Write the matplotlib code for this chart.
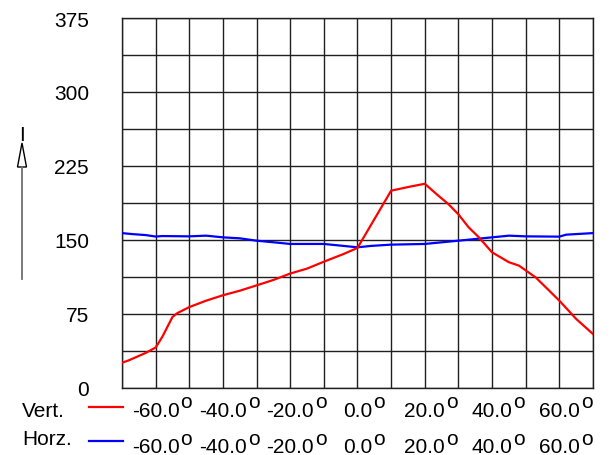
import numpy as np
import matplotlib
matplotlib.use("Agg")
import matplotlib.pyplot as plt
from matplotlib.lines import Line2D
from matplotlib.patches import Polygon

plt.rcParams['font.family'] = ['Liberation Sans', 'DejaVu Sans']

# angle (deg) / value pairs
vert_x = [-70, -68, -63, -60, -58, -55, -53.5, -50, -45, -40, -35, -30, -25, -20,
          -15, -10, -4, 0, 10, 15.5, 20, 24, 27, 30, 33, 36, 40, 45, 48, 53, 57,
          60, 65, 70]
vert_y = [25.6, 28, 35.5, 41, 52, 72, 76, 82, 88.5, 94, 98.6, 104, 109.5, 116,
          121, 128, 136, 142, 200, 204, 207, 195, 186.5, 176, 163, 153, 137.5,
          127.5, 124, 112, 98.6, 88.5, 70, 54.7]
horz_x = [-70, -67, -63, -60, -58, -50, -45, -40, -35, -30, -25, -20, -10, 0, 4,
          10, 20, 30, 40, 45, 50, 60, 62, 70]
horz_y = [157, 156, 155, 153.5, 154, 153.7, 154.4, 152.7, 151.7, 149.3, 147.7,
          146, 146, 142.6, 144, 145.3, 146, 149.3, 152.7, 154.4, 153.7, 153.4,
          155.4, 157]

y_ticks = [0, 75, 150, 225, 300, 375]
x_ticks = [-60, -40, -20, 0, 20, 40, 60]
x_labels = ['-60.0', '-40.0', '-20.0', '0.0', '20.0', '40.0', '60.0']
series_names = ['Vert.', 'Horz.']
series_colors = ['#ff0000', '#0000ff']

W, H = 610, 456
fig = plt.figure(figsize=(W / 100, H / 100), dpi=100)

def fx(px):
    return px / W

def fy(py):
    return 1 - py / H

ax = fig.add_axes([fx(122), fy(389), fx(593) - fx(122), fy(19) - fy(389)])
ax.set_xlim(-70, 70)
ax.set_ylim(0, 375)
ax.set_xticks(np.arange(-70, 71, 10))
ax.set_yticks(np.arange(0, 376, 37.5))
ax.grid(True, color='#202020', lw=1.0)
ax.set_axisbelow(True)
ax.tick_params(length=0, labelbottom=False, labelleft=False)
for s in ax.spines.values():
    s.set_color('#202020')
    s.set_linewidth(1.0)

ax.plot(horz_x, horz_y, color=series_colors[1], lw=1.6, zorder=3)
ax.plot(vert_x, vert_y, color=series_colors[0], lw=1.6, zorder=4)

# y tick labels
for v in y_ticks:
    ax.annotate(str(v), xy=(0, v), xycoords=ax.get_yaxis_transform(),
                xytext=(-33, -7.5), textcoords='offset pixels',
                ha='right', va='baseline', fontsize=15)

# legend rows with their own x labels
fig.canvas.draw()
renderer = fig.canvas.get_renderer()
name_base = [417, 445]
line_y = [408, 442]
num_base = [417, 453]
deg_base = [408, 445]
for i in range(2):
    fig.text(fx(22), fy(name_base[i]), series_names[i], ha='left', va='baseline',
             fontsize=15)
    fig.add_artist(Line2D([fx(89), fx(123)], [fy(line_y[i]), fy(line_y[i])],
                          color=series_colors[i], lw=1.6))
    for t, lab in zip(x_ticks, x_labels):
        xp = ax.transData.transform((t, 0))[0]
        txt = fig.text(xp / W, fy(num_base[i]), lab, ha='center', va='baseline',
                       fontsize=15)
        bb = txt.get_window_extent(renderer)
        fig.text(bb.x1 / W + fx(1), fy(deg_base[i]), 'o', ha='left',
                 va='baseline', fontsize=15)

# axis name with arrow
fig.text(fx(22), fy(141), 'I', ha='center', va='baseline', fontsize=15)
fig.add_artist(Line2D([fx(22), fx(22)], [fy(168), fy(280)], color='#707070', lw=1.3))
fig.add_artist(Polygon([[fx(17.5), fy(168)], [fx(26.5), fy(168)], [fx(22), fy(144)]],
                       closed=True, fc='white', ec='black', lw=1.0,
                       transform=fig.transFigure))

fig.savefig('out.png', dpi=100)
